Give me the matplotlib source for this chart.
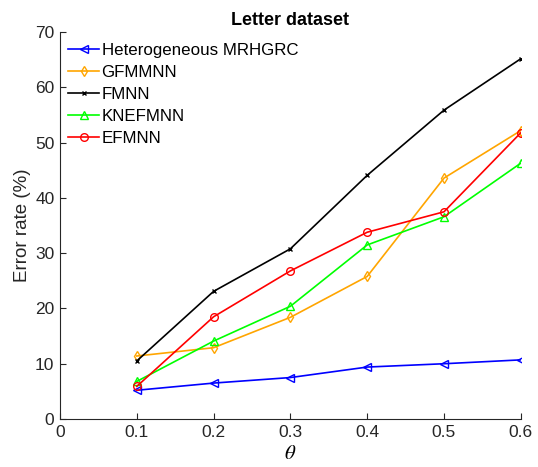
import numpy as np
import matplotlib
matplotlib.use("Agg")
import matplotlib.pyplot as plt

plt.rcParams['font.family'] = ['Liberation Sans', 'DejaVu Sans']
plt.rcParams['mathtext.fontset'] = 'stix'

# datos
theta = [0.1, 0.2, 0.3, 0.4, 0.5, 0.6]
hetero = [5.2, 6.5, 7.5, 9.4, 10.0, 10.7]
gfmmnn = [11.4, 12.9, 18.4, 25.8, 43.6, 52.2]
fmnn = [10.5, 23.1, 30.8, 44.1, 55.9, 65.2]
knefmnn = [6.8, 14.1, 20.4, 31.5, 36.6, 46.3]
efmnn = [5.9, 18.5, 26.8, 33.8, 37.5, 51.8]

series = [
    ("Heterogeneous MRHGRC", hetero, '#0000ff', '<', 5.5),
    ("GFMMNN", gfmmnn, '#ffa500', 'd', 5),
    ("FMNN", fmnn, '#000000', 'x', 3.5),
    ("KNEFMNN", knefmnn, '#00ff00', '^', 5.5),
    ("EFMNN", efmnn, '#ff0000', 'o', 5.5),
]

fig = plt.figure(figsize=(5.38, 4.67), dpi=100)
ax = fig.add_axes([0.1115, 0.1028, 0.8565, 0.8282])

for nombre, valores, color, marcador, tam in series:
    ax.plot(theta, valores, color=color, marker=marcador, markersize=tam,
            fillstyle='none', linewidth=1.2, markeredgewidth=1.0, label=nombre)

ax.set_xlim(0, 0.6)
ax.set_ylim(0, 70)
ax.set_xticks([0, 0.1, 0.2, 0.3, 0.4, 0.5, 0.6])
ax.set_xticklabels(['0', '0.1', '0.2', '0.3', '0.4', '0.5', '0.6'])
ax.set_yticks(range(0, 71, 10))
ax.spines['top'].set_visible(False)
ax.spines['right'].set_visible(False)
for s in ['left', 'bottom']:
    ax.spines[s].set_color('#262626')
    ax.spines[s].set_linewidth(0.8)
ax.tick_params(direction='in', labelsize=12.5, colors='#262626', length=4, pad=4)

ax.set_title("Letter dataset", fontsize=13, fontweight='bold', pad=5)
ax.set_xlabel(r'$\theta$', fontsize=15, labelpad=3)
ax.set_ylabel("Error rate (%)", fontsize=13.5, labelpad=3, color='#262626')

ax.legend(loc='upper left', frameon=False, fontsize=12.2, handlelength=1.8,
          handletextpad=0.15, labelspacing=0.42, borderaxespad=0.1,
          bbox_to_anchor=(0.0, 0.995))

fig.savefig("out.png", dpi=100)
